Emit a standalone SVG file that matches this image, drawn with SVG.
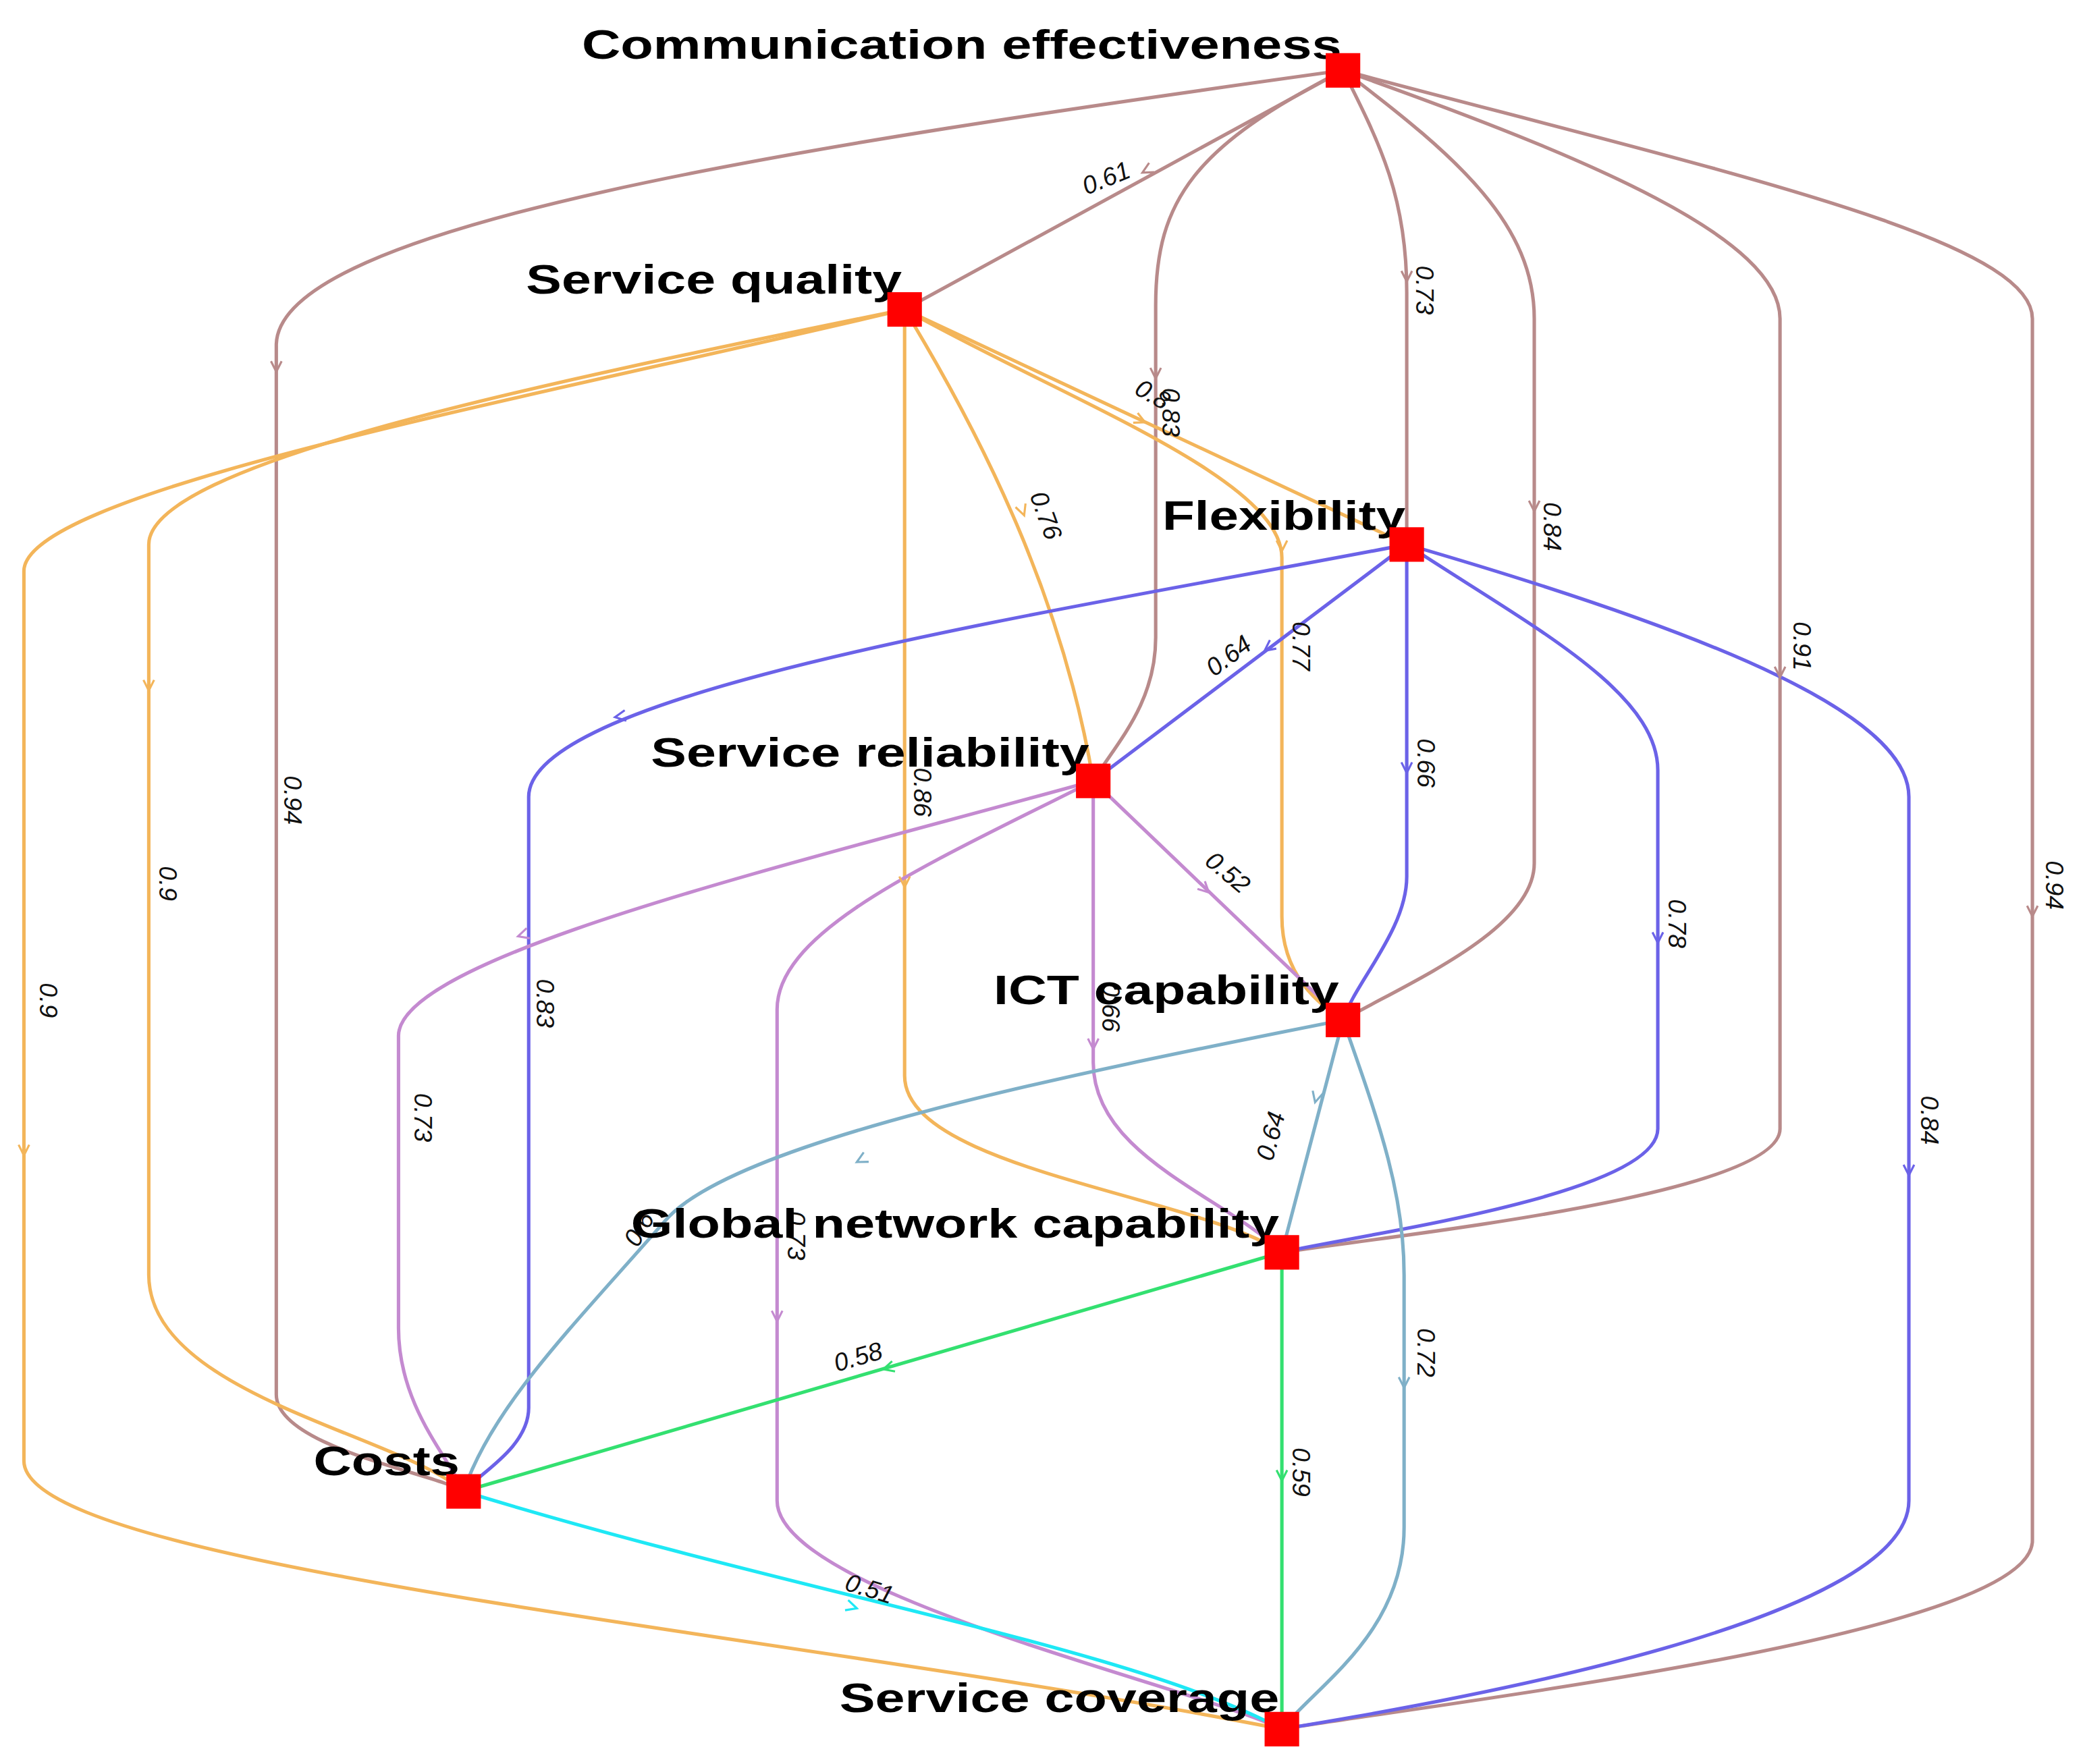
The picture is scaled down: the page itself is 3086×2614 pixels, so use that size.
<svg xmlns="http://www.w3.org/2000/svg" width="3086" height="2614" viewBox="0 0 3086 2614">
<style>
.e{fill:none;stroke-width:2.6;stroke-linecap:round}
.a{fill:none;stroke-width:1.6}
.br{stroke:#b88a8a}.or{stroke:#f3b55a}.bl{stroke:#6b62e8}.pu{stroke:#c48ad0}.st{stroke:#7fb0c8}.gr{stroke:#33e070}.cy{stroke:#1ee8f5}
.l{font-family:"Liberation Sans",Arial,sans-serif;font-size:19px;font-style:italic;fill:#111}
.n{font-family:"Liberation Sans",Arial,sans-serif;font-size:31px;font-weight:bold;fill:#000}
.sq{fill:#ff0000}
</style>
<defs><path id="ah" d="M-4,-8 L0,0 L4,-8"/></defs>
<rect width="3086" height="2614" fill="#fff"/>
<g transform="scale(1.968)">
<g id="connectors">
<path class="e br" d="M1011,53 C600,110 208,170 208,260 L208,1050 C208,1090 330,1110 349,1123"/>
<path class="e br" d="M1011,53 L681,233"/>
<path class="e br" d="M1011,53 C900,110 870,150 870,230 L870,480 C870,530 840,560 823,588"/>
<path class="e br" d="M1011,53 C1040,110 1059,150 1059,220 L1059,410"/>
<path class="e br" d="M1011,53 C1100,120 1155,170 1155,240 L1155,650 C1155,700 1060,740 1011,768"/>
<path class="e br" d="M1011,53 C1200,120 1340,180 1340,240 L1340,850 C1340,900 1050,930 965,943"/>
<path class="e br" d="M1011,53 C1300,130 1530,180 1530,240 L1530,1160 C1530,1230 1100,1280 965,1302"/>
<path class="e or" d="M681,233 C400,300 18,370 18,430 L18,1100 C18,1180 600,1230 965,1302"/>
<path class="e or" d="M681,233 C400,290 112,350 112,410 L112,960 C112,1050 300,1080 349,1123"/>
<path class="e or" d="M681,233 L1059,410"/>
<path class="e or" d="M681,233 C800,300 965,360 965,420 L965,690 C965,740 1000,760 1011,768"/>
<path class="e or" d="M681,233 C740,330 800,450 823,588"/>
<path class="e or" d="M681,233 L681,810 C681,880 900,900 965,943"/>
<path class="e bl" d="M1059,410 C800,460 398,520 398,600 L398,1060 C398,1090 360,1110 349,1123"/>
<path class="e bl" d="M1059,410 L823,588"/>
<path class="e bl" d="M1059,410 L1059,660 C1059,700 1020,740 1011,768"/>
<path class="e bl" d="M1059,410 C1150,470 1248,520 1248,580 L1248,850 C1248,900 1020,930 965,943"/>
<path class="e bl" d="M1059,410 C1300,480 1437,540 1437,600 L1437,1130 C1437,1220 1100,1280 965,1302"/>
<path class="e pu" d="M823,588 C600,650 300,720 300,780 L300,1000 C300,1060 340,1100 349,1123"/>
<path class="e pu" d="M823,588 L1011,768"/>
<path class="e pu" d="M823,588 L823,800 C823,870 920,900 965,943"/>
<path class="e pu" d="M823,588 C700,650 585,700 585,760 L585,1130 C585,1200 900,1270 965,1302"/>
<path class="e st" d="M1011,768 C800,810 550,860 500,920 C430,1000 370,1060 349,1123"/>
<path class="e st" d="M1011,768 L965,943"/>
<path class="e st" d="M1011,768 C1040,850 1057,900 1057,960 L1057,1150 C1057,1230 990,1270 965,1302"/>
<path class="e gr" d="M965,943 L349,1123"/>
<path class="e gr" d="M965,943 L965,1302"/>
<path class="e cy" d="M349,1123 C600,1200 850,1240 965,1302"/>
<use href="#ah" class="a br" transform="translate(208,280)"/>
<use href="#ah" class="a br" transform="translate(860,130) rotate(61)"/>
<use href="#ah" class="a br" transform="translate(870,285)"/>
<use href="#ah" class="a br" transform="translate(1059,212)"/>
<use href="#ah" class="a br" transform="translate(1155,385)"/>
<use href="#ah" class="a br" transform="translate(1340,510)"/>
<use href="#ah" class="a br" transform="translate(1530,690)"/>
<use href="#ah" class="a or" transform="translate(18,870)"/>
<use href="#ah" class="a or" transform="translate(112,520)"/>
<use href="#ah" class="a or" transform="translate(862,318) rotate(-65)"/>
<use href="#ah" class="a or" transform="translate(965,415)"/>
<use href="#ah" class="a or" transform="translate(771,388) rotate(-20)"/>
<use href="#ah" class="a or" transform="translate(681,668)"/>
<use href="#ah" class="a bl" transform="translate(463,540) rotate(81)"/>
<use href="#ah" class="a bl" transform="translate(952,490) rotate(53)"/>
<use href="#ah" class="a bl" transform="translate(1059,582)"/>
<use href="#ah" class="a bl" transform="translate(1248,710)"/>
<use href="#ah" class="a bl" transform="translate(1437,885)"/>
<use href="#ah" class="a pu" transform="translate(390,705) rotate(73)"/>
<use href="#ah" class="a pu" transform="translate(910,672) rotate(-46)"/>
<use href="#ah" class="a pu" transform="translate(823,790)"/>
<use href="#ah" class="a pu" transform="translate(585,995)"/>
<use href="#ah" class="a st" transform="translate(645,875) rotate(62)"/>
<use href="#ah" class="a st" transform="translate(990,830) rotate(15)"/>
<use href="#ah" class="a st" transform="translate(1057,1045)"/>
<use href="#ah" class="a gr" transform="translate(665,1031) rotate(74)"/>
<use href="#ah" class="a gr" transform="translate(965,1115)"/>
<use href="#ah" class="a cy" transform="translate(645,1211) rotate(-73)"/>
</g>
<g id="edge-labels">
<text class="l" transform="translate(818,147) rotate(-22)">0.61</text>
<text class="l" transform="translate(214,584) rotate(90)">0.94</text>
<text class="l" transform="translate(875,292) rotate(90)">0.83</text>
<text class="l" transform="translate(853,296) rotate(30)">0.8</text>
<text class="l" transform="translate(1066,200) rotate(90)">0.73</text>
<text class="l" transform="translate(1162,378) rotate(90)">0.84</text>
<text class="l" transform="translate(1350,468) rotate(90)">0.91</text>
<text class="l" transform="translate(1540,648) rotate(90)">0.94</text>
<text class="l" transform="translate(30,740) rotate(90)">0.9</text>
<text class="l" transform="translate(120,652) rotate(90)">0.9</text>
<text class="l" transform="translate(973,468) rotate(90)">0.77</text>
<text class="l" transform="translate(775,373) rotate(70)">0.76</text>
<text class="l" transform="translate(688,578) rotate(90)">0.86</text>
<text class="l" transform="translate(914,510) rotate(-37)">0.64</text>
<text class="l" transform="translate(404,737) rotate(90)">0.83</text>
<text class="l" transform="translate(1067,556) rotate(90)">0.66</text>
<text class="l" transform="translate(1256,677) rotate(90)">0.78</text>
<text class="l" transform="translate(1446,825) rotate(90)">0.84</text>
<text class="l" transform="translate(312,823) rotate(90)">0.73</text>
<text class="l" transform="translate(906,650) rotate(40)">0.52</text>
<text class="l" transform="translate(830,740) rotate(90)">0.66</text>
<text class="l" transform="translate(593,912) rotate(90)">0.73</text>
<text class="l" transform="translate(480,940) rotate(-60)">0.6</text>
<text class="l" transform="translate(958,875) rotate(-75)">0.64</text>
<text class="l" transform="translate(1067,1000) rotate(90)">0.72</text>
<text class="l" transform="translate(630,1033) rotate(-16)">0.58</text>
<text class="l" transform="translate(973,1090) rotate(90)">0.59</text>
<text class="l" transform="translate(635,1197) rotate(17)">0.51</text>
</g>
<g id="n-ce"><text class="n" x="438" y="44" textLength="572" lengthAdjust="spacingAndGlyphs">Communication effectiveness</text><rect class="sq" x="998" y="40" width="26" height="26"/></g>
<g id="n-sq"><text class="n" x="396" y="221" textLength="283" lengthAdjust="spacingAndGlyphs">Service quality</text><rect class="sq" x="668" y="220" width="26" height="26"/></g>
<g id="n-fx"><text class="n" x="875" y="399" textLength="183" lengthAdjust="spacingAndGlyphs">Flexibility</text><rect class="sq" x="1046" y="397" width="26" height="26"/></g>
<g id="n-sr"><text class="n" x="490" y="577" textLength="330" lengthAdjust="spacingAndGlyphs">Service reliability</text><rect class="sq" x="810" y="575" width="26" height="26"/></g>
<g id="n-ict"><text class="n" x="748" y="756" textLength="260" lengthAdjust="spacingAndGlyphs">ICT capability</text><rect class="sq" x="998" y="755" width="26" height="26"/></g>
<g id="n-gn"><text class="n" x="475" y="932" textLength="488" lengthAdjust="spacingAndGlyphs">Global network capability</text><rect class="sq" x="952" y="930" width="26" height="26"/></g>
<g id="n-c"><text class="n" x="236" y="1111" textLength="110" lengthAdjust="spacingAndGlyphs">Costs</text><rect class="sq" x="336" y="1110" width="26" height="26"/></g>
<g id="n-sc"><text class="n" x="632" y="1289" textLength="331" lengthAdjust="spacingAndGlyphs">Service coverage</text><rect class="sq" x="952" y="1289" width="26" height="26"/></g>
</g>
</svg>
